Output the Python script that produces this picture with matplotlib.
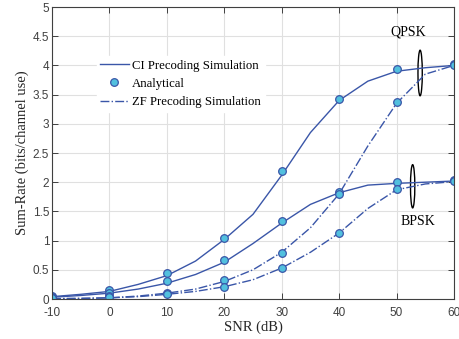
import matplotlib
matplotlib.use("Agg")
import matplotlib.pyplot as plt
from matplotlib.patches import Ellipse

plt.rcParams['axes.unicode_minus'] = False

snr_sim = [-10, -5, 0, 5, 10, 15, 20, 25, 30, 35, 40, 45, 50, 55, 60]
qpsk_ci_sim = [0.04, 0.08, 0.13, 0.25, 0.40, 0.65, 1.02, 1.45, 2.12, 2.85, 3.40, 3.73, 3.90, 3.96, 4.00]
bpsk_ci_sim = [0.03, 0.06, 0.10, 0.17, 0.27, 0.42, 0.63, 0.95, 1.30, 1.62, 1.82, 1.95, 1.98, 2.00, 2.02]
qpsk_zf_sim = [0.005, 0.01, 0.02, 0.05, 0.10, 0.17, 0.30, 0.50, 0.80, 1.22, 1.80, 2.62, 3.35, 3.85, 4.00]
bpsk_zf_sim = [0.005, 0.01, 0.02, 0.04, 0.08, 0.13, 0.21, 0.33, 0.53, 0.80, 1.13, 1.55, 1.87, 1.97, 2.01]

snr_an = [-10, 0, 10, 20, 30, 40, 50, 60]
qpsk_ci_an = [0.05, 0.15, 0.44, 1.04, 2.19, 3.42, 3.93, 4.02]
bpsk_ci_an = [0.04, 0.10, 0.30, 0.66, 1.33, 1.84, 2.00, 2.03]
qpsk_zf_an = [0.02, 0.05, 0.10, 0.32, 0.79, 1.80, 3.38, 4.00]
bpsk_zf_an = [0.01, 0.04, 0.08, 0.21, 0.53, 1.13, 1.89, 2.02]

line_c = "#3a56a8"
mfc = "#52c0de"

fig = plt.figure(figsize=(4.59, 3.39), dpi=100)
ax = fig.add_axes([52/459, 40/339, 402/459, 292/339])

serif = ["Liberation Serif", "DejaVu Serif"]
sans = ["Liberation Sans", "DejaVu Sans"]

l1, = ax.plot(snr_sim, qpsk_ci_sim, '-', color=line_c, lw=1.0)
ax.plot(snr_sim, bpsk_ci_sim, '-', color=line_c, lw=1.0)
l3, = ax.plot(snr_sim, qpsk_zf_sim, '-.', color=line_c, lw=1.0)
ax.plot(snr_sim, bpsk_zf_sim, '-.', color=line_c, lw=1.0)
mk = dict(linestyle='none', marker='o', ms=5.5, mfc=mfc, mec=line_c, mew=0.9)
l2, = ax.plot(snr_an, qpsk_ci_an, **mk)
ax.plot(snr_an, bpsk_ci_an, **mk)
ax.plot(snr_an, qpsk_zf_an, **mk)
ax.plot(snr_an, bpsk_zf_an, **mk)

ax.add_patch(Ellipse((54.1, 3.87), 0.75, 0.78, fill=False, ec='black', lw=1.0))
ax.add_patch(Ellipse((52.8, 1.93), 0.75, 0.74, fill=False, ec='black', lw=1.0))
ax.text(52, 4.57, "QPSK", family=serif, fontsize=10, ha='center', va='center')
ax.text(53.8, 1.32, "BPSK", family=serif, fontsize=10, ha='center', va='center')

ax.set_xlim(-10, 60)
ax.set_ylim(0, 5)
ax.set_xticks(range(-10, 61, 10))
ax.set_yticks([0, 0.5, 1, 1.5, 2, 2.5, 3, 3.5, 4, 4.5, 5])
ax.set_yticklabels(["0", "0.5", "1", "1.5", "2", "2.5", "3", "3.5", "4", "4.5", "5"])
ax.grid(True, color="#e0e0e0", lw=0.8)
ax.set_axisbelow(True)
ax.tick_params(direction='in', top=True, right=True, length=4, width=0.7,
               colors="#404040", labelsize=8.5)
ax.tick_params(axis='x', pad=6)
ax.tick_params(axis='y', pad=2)
for lab in ax.get_xticklabels() + ax.get_yticklabels():
    lab.set_family(sans)
for s in ax.spines.values():
    s.set_color("#404040")
    s.set_linewidth(0.8)

ax.set_xlabel("SNR (dB)", family=serif, fontsize=10.5, color="#262626", labelpad=1)
ax.set_ylabel("Sum-Rate (bits/channel use)", family=serif, fontsize=10.5, color="#262626", labelpad=3)

leg = ax.legend([l1, l2, l3], ["CI Precoding Simulation", "Analytical", "ZF Precoding Simulation"],
                loc='upper left', bbox_to_anchor=(0.095, 0.855), frameon=True, fancybox=False,
                edgecolor='white', framealpha=1, prop={'family': serif, 'size': 9.2},
                handlelength=2.2, handletextpad=0.3, borderpad=0.3, labelspacing=0.5)

fig.savefig("out.png", dpi=100)
